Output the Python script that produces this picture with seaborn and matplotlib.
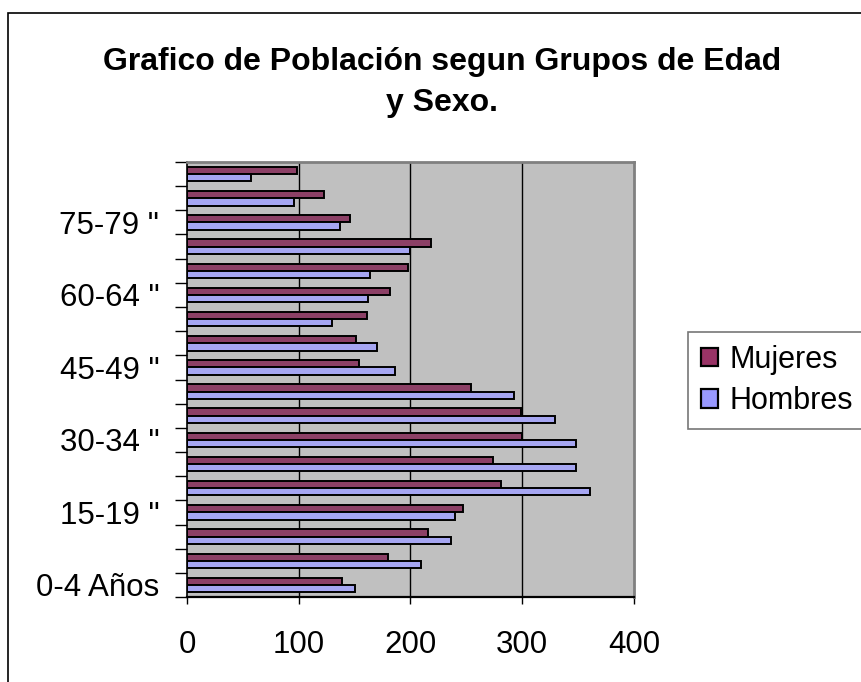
import numpy as np
import pandas as pd
import seaborn as sns
import matplotlib.pyplot as plt
from matplotlib.patches import Patch, Rectangle
from matplotlib.ticker import FixedLocator

# Datos (de 0-4 Años hasta 85 y más)
grupos = ['0-4 Años', '5-9 "', '10-14 "', '15-19 "', '20-24 "', '25-29 "',
          '30-34 "', '35-39 "', '40-44 "', '45-49 "', '50-54 "', '55-59 "',
          '60-64 "', '65-69 "', '70-74 "', '75-79 "', '80-84 "', '85 y más']
mujeres = [139, 180, 216, 247, 281, 274, 300, 299, 254, 154, 151, 161,
           182, 198, 218, 146, 123, 98]
hombres = [150, 209, 236, 240, 361, 348, 348, 329, 293, 186, 170, 130,
           162, 164, 200, 137, 96, 57]
series = ['Mujeres', 'Hombres']
colores = ['#993366', '#9999FF']
etiquetas_x = [0, 100, 200, 300, 400]

df = pd.DataFrame({
    'grupo': grupos * 2,
    'sexo': ['Mujeres'] * len(grupos) + ['Hombres'] * len(grupos),
    'valor': mujeres + hombres,
})

sns.set_style('white')
plt.rcParams['font.family'] = ['Liberation Sans', 'DejaVu Sans']
plt.rcParams['text.color'] = 'black'
plt.rcParams['xtick.color'] = 'black'
plt.rcParams['ytick.color'] = 'black'
plt.rcParams['axes.labelcolor'] = 'black'

fig = plt.figure(figsize=(8.62, 6.82), dpi=100)
ax = fig.add_axes([187 / 862, 1 - 597 / 682, (634 - 187) / 862, (597 - 162) / 682])
ax.set_facecolor('#c0c0c0')

orden = grupos[::-1]  # arriba el grupo mayor
sns.barplot(data=df, x='valor', y='grupo', hue='sexo', order=orden,
            hue_order=series, palette=colores, orient='h', width=0.6,
            edgecolor='black', linewidth=1.4, legend=False, ax=ax)

ax.set_xlim(0, 400)
ax.set_ylim(len(grupos) - 0.5, -0.5)
ax.set_xticks(etiquetas_x)
ax.set_xticklabels([str(v) for v in etiquetas_x], fontsize=22.5)
ax.tick_params(axis='x', length=5, width=1, color='black', labelcolor='black',
               pad=19, bottom=True)

# etiquetas solo cada tres grupos, marcas en los limites
pos = [orden.index(g) for g in grupos[::3]]
ax.set_yticks(pos)
ax.set_yticklabels(grupos[::3], fontsize=22.5)
ax.tick_params(axis='y', which='major', length=0, pad=20, labelcolor='black')
ax.yaxis.set_minor_locator(FixedLocator(np.arange(-0.5, len(grupos), 1)))
ax.tick_params(axis='y', which='minor', length=9, width=1, color='black', left=True)

ax.set_xlabel('')
ax.set_ylabel('')
ax.grid(False)
for v in [100, 200, 300]:
    ax.axvline(v, color='black', lw=1, zorder=0)

ax.spines['left'].set_color('black')
ax.spines['left'].set_linewidth(1.2)
ax.spines['bottom'].set_color('black')
ax.spines['bottom'].set_linewidth(1.6)
for s in ['top', 'right']:
    ax.spines[s].set_color('#808080')
    ax.spines[s].set_linewidth(2)

# titulo
fig.text(442 / 862, 1 - 70 / 682, 'Grafico de Población segun Grupos de Edad',
         ha='center', va='baseline', fontsize=23, fontweight='bold', color='black')
fig.text(442 / 862, 1 - 111 / 682, 'y Sexo.',
         ha='center', va='baseline', fontsize=23, fontweight='bold', color='black')

# leyenda
handles = [Patch(facecolor=c, edgecolor='black', linewidth=1.6) for c in colores]
leg = fig.legend(handles, series, loc='upper left',
                 bbox_to_anchor=(688 / 862, 1 - 332 / 682), fontsize=22,
                 frameon=True, fancybox=False, borderaxespad=0,
                 handlelength=0.55, handleheight=0.55, handletextpad=0.4,
                 labelspacing=0.38, borderpad=0.42)
leg.get_frame().set_edgecolor('#555555')
leg.get_frame().set_linewidth(1.2)

# marco exterior del grafico
fig.patches.append(Rectangle((8 / 862, -0.1), 2, 1.1 - 13 / 682, fill=False,
                             edgecolor='black', lw=1.2,
                             transform=fig.transFigure, figure=fig))

fig.savefig('out.png', dpi=100)
